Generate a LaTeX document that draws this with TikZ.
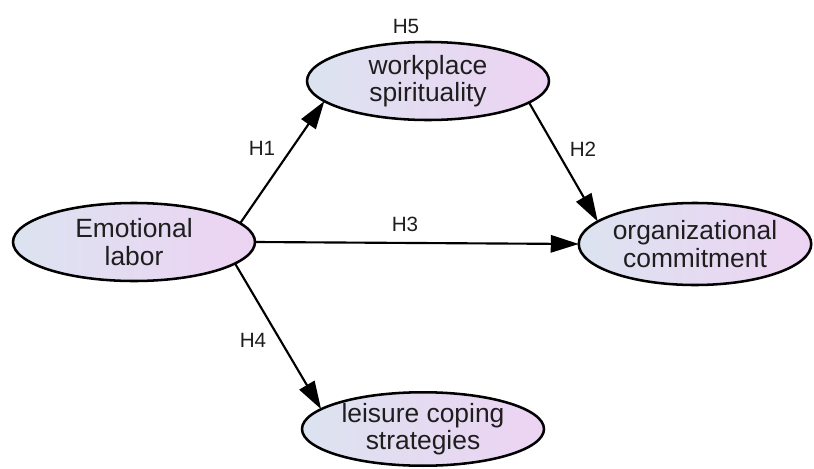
\documentclass[tikz,border=0pt]{standalone}
\usepackage{fontspec}
\setmainfont{Liberation Sans}
\usetikzlibrary{shapes.geometric,arrows.meta}
\definecolor{fillL}{RGB}{220,227,240}
\definecolor{fillR}{RGB}{237,211,243}
\definecolor{txt}{RGB}{30,30,30}
\tikzset{
  construct/.style={ellipse, draw=black, line width=1.9pt, left color=fillL, right color=fillR,
    inner sep=0pt, outer sep=0pt, align=center, text=txt,
    font=\fontsize{19.8}{20.5}\selectfont},
  path/.style={line width=1.6pt, -{Triangle[length=21pt,width=13pt]}},
  hlabel/.style={font=\fontsize{15.5}{16}\selectfont, text=txt, inner sep=0pt}
}
\begin{document}
\begin{tikzpicture}[x=0.75pt,y=-0.75pt]
\useasboundingbox (0,0) rectangle (814,468);
\node[construct, minimum width=242*0.75pt, minimum height=78*0.75pt] (EL) at (134,242) {Emotional\\labor};
\node[construct, minimum width=242*0.75pt, minimum height=78*0.75pt] (WS) at (428,81) {workplace\\spirituality};
\node[construct, minimum width=228*0.75pt, minimum height=82*0.75pt] (OC) at (695,244) {organizational\\commitment};
\node[construct, minimum width=242*0.75pt, minimum height=72*0.75pt] (LC) at (423,429) {leisure coping\\strategies};
\draw[path] (EL.10.6) -- (WS.191);
\draw[path] (WS.-12.9) -- (OC.167.9);
\draw[path] (EL.0) -- (OC.180);
\draw[path] (EL.-12.5) -- (LC.169.3);
\node[hlabel] (h5) at (406,26) {H5};
\node[hlabel] (h1) at (262,148) {H1};
\node[hlabel] (h2) at (583,149) {H2};
\node[hlabel] (h3) at (405,224) {H3};
\node[hlabel] (h4) at (253,340) {H4};
\end{tikzpicture}
\end{document}
